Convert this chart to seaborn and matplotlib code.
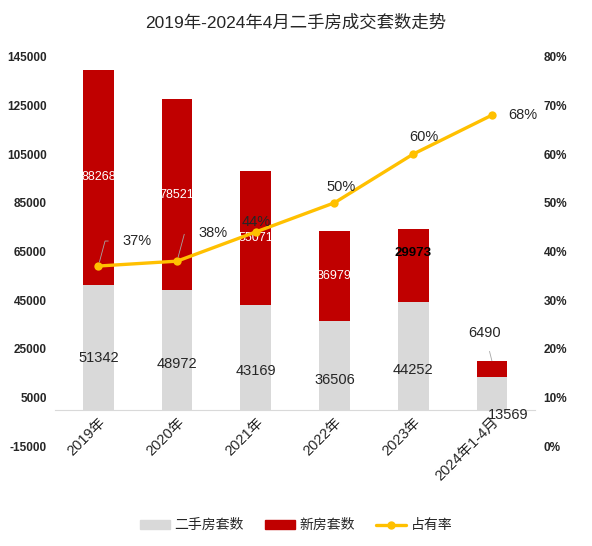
import numpy as np
import pandas as pd
import matplotlib
matplotlib.use("Agg")
import matplotlib.pyplot as plt
import seaborn as sns
from matplotlib.patches import Patch
from matplotlib.lines import Line2D

sns.set_style("white")
plt.rcParams['font.family'] = ['Liberation Sans', 'Noto Sans CJK SC', 'DejaVu Sans']
plt.rcParams['axes.unicode_minus'] = False

# 数据
years = ["2019年", "2020年", "2021年", "2022年", "2023年", "2024年1-4月"]
second_hand = [51342, 48972, 43169, 36506, 44252, 13569]
new_house = [88268, 78521, 55071, 36979, 29973, 6490]
share = [0.37, 0.38, 0.44, 0.50, 0.60, 0.68]

GRAY = "#D9D9D9"
RED = "#C00000"
YELLOW = "#FFC000"

df = pd.DataFrame({"年份": years, "二手房套数": second_hand, "新房套数": new_house})
df["合计"] = df["二手房套数"] + df["新房套数"]

fig = plt.figure(figsize=(5.92, 5.46), dpi=100)
ax = fig.add_axes([0.093, 0.183, 0.811, 0.713])

# 堆叠柱：先画合计(红)，再画二手房(灰)
sns.barplot(data=df, x="年份", y="合计", color=RED, width=0.39, saturation=1,
            linewidth=0, ax=ax)
sns.barplot(data=df, x="年份", y="二手房套数", color=GRAY, width=0.39, saturation=1,
            linewidth=0, ax=ax)

ax.set_ylim(-15000, 145000)
ax.set_yticks(np.arange(-15000, 145001, 20000))
ax.set_xlim(-0.55, 5.55)
ax.set_xlabel("")
ax.set_ylabel("")
for s in ["top", "left", "right"]:
    ax.spines[s].set_visible(False)
ax.spines["bottom"].set_position(("data", 0))
ax.spines["bottom"].set_color(GRAY)
ax.tick_params(axis="x", length=0, pad=4)
ax.tick_params(axis="y", length=0, pad=6)
ax.set_xticks(range(len(years)))
ax.set_xticklabels(years, rotation=45, ha="right", va="top", rotation_mode="anchor", fontsize=10.5)
for lab in ax.get_yticklabels():
    lab.set_fontsize(8.5)
    lab.set_fontweight("bold")

# 二手房数值标签
gray_off = [-8, -10, -10, -11, -10]
for i in range(5):
    ax.annotate(str(second_hand[i]), (i, second_hand[i] / 2), xytext=(0, gray_off[i]),
                textcoords="offset points", ha="center", va="center", fontsize=10.5)
ax.annotate(str(second_hand[5]), (5, second_hand[5] / 2), xytext=(12, -16),
            textcoords="offset points", ha="center", va="center", fontsize=10.5)

# 新房数值标签
for i in range(4):
    ax.annotate(str(new_house[i]), (i, second_hand[i] + new_house[i] / 2), xytext=(0, 0),
                textcoords="offset points", ha="center", va="center", fontsize=9, color="white")
ax.annotate(str(new_house[4]), (4, second_hand[4] + new_house[4] / 2), xytext=(0, 9),
            textcoords="offset points", ha="center", va="center", fontsize=9.5,
            color="black", fontweight="bold")
ax.annotate(str(new_house[5]), (5, second_hand[5] + new_house[5]), xytext=(-5, 20),
            textcoords="offset points", ha="center", va="center", fontsize=10.5,
            arrowprops=dict(arrowstyle="-", color="#A6A6A6", lw=0.6, shrinkA=6, shrinkB=0))

# 占有率折线
ax2 = ax.twinx()
sns.lineplot(x=np.arange(len(years)), y=share, color=YELLOW, lw=2.4, marker="o",
             markersize=6, markeredgewidth=0, ax=ax2)
ax2.set_ylim(0, 0.8)
ax2.set_yticks(np.arange(0, 0.81, 0.1))
ax2.set_yticklabels([f"{int(round(v * 100))}%" for v in np.arange(0, 0.81, 0.1)],
                    fontsize=8.5, fontweight="bold")
ax2.tick_params(axis="y", length=0, pad=6)
for s in ["top", "left", "right", "bottom"]:
    ax2.spines[s].set_visible(False)

pct_off = [(28, 18), (26, 20), (0, 7), (5, 11), (8, 12), (22, 0)]
for i, v in enumerate(share):
    arrow = None
    if i < 2:
        arrow = dict(arrowstyle="-", color="#A6A6A6", lw=0.6, shrinkA=8, shrinkB=3,
                     connectionstyle="angle,angleA=0,angleB=75,rad=0")
    ax2.annotate(f"{int(round(v * 100))}%", (i, v), xytext=pct_off[i], textcoords="offset points",
                 ha="center", va="center", fontsize=10.5, arrowprops=arrow)

fig.text(0.5, 0.958, "2019年-2024年4月二手房成交套数走势", ha="center", va="center", fontsize=12.5)

handles = [Patch(color=GRAY, label="二手房套数"), Patch(color=RED, label="新房套数"),
           Line2D([0], [0], color=YELLOW, lw=2.4, marker="o", markersize=5, label="占有率")]
fig.legend(handles=handles, loc="center", bbox_to_anchor=(0.5, 0.038), ncol=3, frameon=False,
           fontsize=10, handlelength=2.2, handleheight=0.6, columnspacing=1.5, handletextpad=0.3)

fig.savefig("out.png", dpi=100)
